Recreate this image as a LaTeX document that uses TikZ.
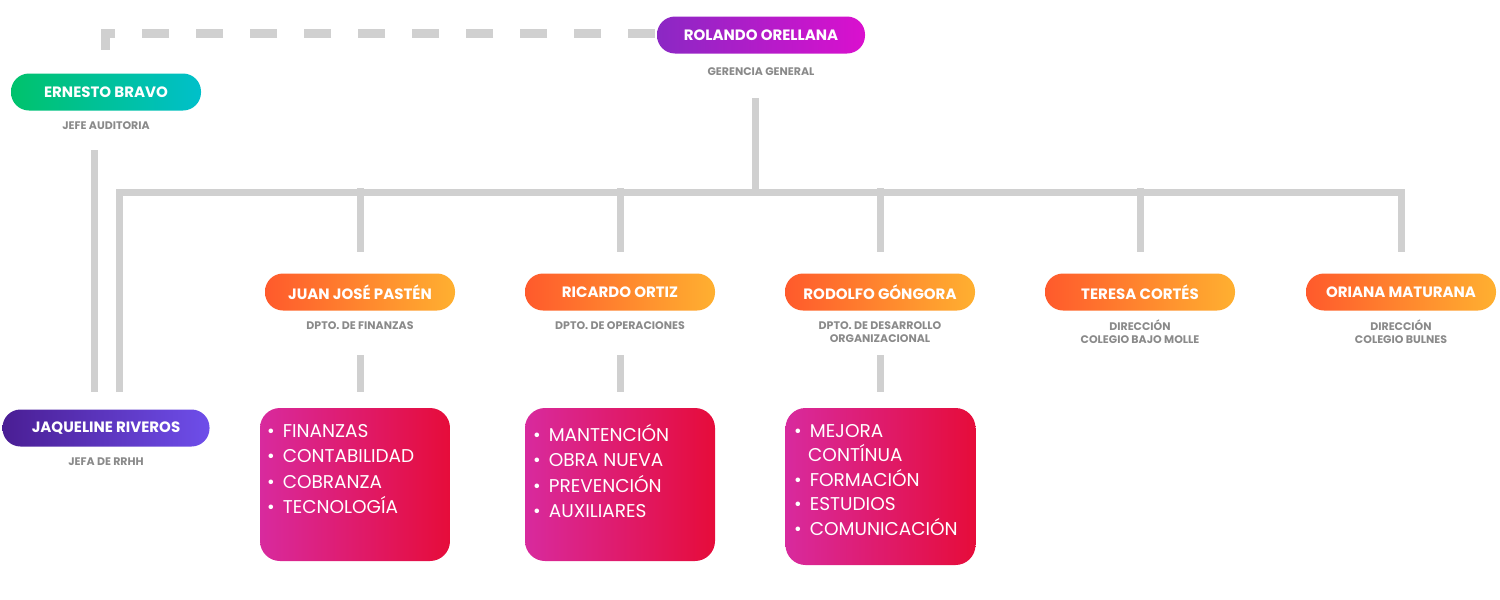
\documentclass[tikz,border=0pt]{standalone}
\usepackage{fontspec}
\setmainfont{Poppins}
\begin{document}
\begin{tikzpicture}[x=1pt,y=-1pt,
  pill/.style={rounded corners=18pt,minimum height=37pt,inner sep=0pt,text=white,font=\bfseries\fontsize{15}{18}\selectfont},
  org/.style={pill,minimum width=190pt,left color=orgA,right color=orgB},
  sub/.style={text=subg,font=\bfseries\fontsize{11}{12}\selectfont,align=center,inner sep=0pt},
  lst/.style={rounded corners=20pt,left color=boxA,right color=boxB,minimum width=190pt,inner sep=0pt},
  itm/.style={text=white,font=\fontsize{18.5}{25.5}\selectfont,align=left,anchor=north west,inner sep=0pt},
  con/.style={draw=lineg,line width=7pt}]
\definecolor{lineg}{HTML}{D0D0D0}
\definecolor{subg}{HTML}{8A8A8A}
\definecolor{orgA}{HTML}{FF5A2C}
\definecolor{orgB}{HTML}{FFB030}
\definecolor{boxA}{HTML}{D82A9E}
\definecolor{boxB}{HTML}{E60C3A}
\definecolor{purA}{HTML}{8B28C4}
\definecolor{purB}{HTML}{DA10CE}
\definecolor{grA}{HTML}{00C26C}
\definecolor{grB}{HTML}{00C0CA}
\definecolor{jaA}{HTML}{4A1E94}
\definecolor{jaB}{HTML}{6E4EEA}
\useasboundingbox (0,0) rectangle (1500,600);
% top
\node[pill,minimum width=208pt,left color=purA,right color=purB] (ro) at (761,35) {ROLANDO ORELLANA};
\node[sub] (ros) at (761,72) {GERENCIA GENERAL};
\node[pill,minimum width=190pt,left color=grA,right color=grB] (eb) at (106,92) {ERNESTO BRAVO};
\node[sub] (ebs) at (106,126) {JEFE AUDITORIA};
\node[pill,minimum width=207pt,left color=jaA,right color=jaB] (jr) at (106,428) {JAQUELINE RIVEROS};
\node[sub] (jrs) at (106,462) {JEFA DE RRHH};
% dashed link
\coordinate (d1) at (105,56);
\coordinate (d2) at (655,33);
\draw[draw=lineg,line width=9pt,dash pattern=on 27pt off 27pt] (d2) -- (d1 |- d2) -- (d1);
% tree
\coordinate (t0) at (755,98);
\coordinate (bar) at (755,192);
\draw[con] (t0) -- (bar);
\draw[con] (119,392) -- (119,192) -- (1401,192) -- (1401,252);
\foreach \x in {360,620,880,1140}{\draw[con] (\x,188) -- (\x,252);}
\draw[con] (94,150) -- (94,392);
% departments
\node[org] (p1) at (360,292) {JUAN JOSÉ PASTÉN};
\node[org] (p2) at (620,292) {RICARDO ORTIZ};
\node[org] (p3) at (880,292) {RODOLFO GÓNGORA};
\node[org] (p4) at (1140,292) {TERESA CORTÉS};
\node[org] (p5) at (1401,292) {ORIANA MATURANA};
\node[sub] at (360,326) {DPTO. DE FINANZAS};
\node[sub] at (620,326) {DPTO. DE OPERACIONES};
\node[sub,font=\bfseries\fontsize{11}{13}\selectfont] at (880,332) {DPTO. DE DESARROLLO\\ORGANIZACIONAL};
\node[sub,font=\bfseries\fontsize{11}{13}\selectfont] at (1140,332) {DIRECCIÓN\\COLEGIO BAJO MOLLE};
\node[sub,font=\bfseries\fontsize{11}{13}\selectfont] at (1401,332) {DIRECCIÓN\\COLEGIO BULNES};
\foreach \x in {360,620,880}{\draw[con] (\x,355) -- (\x,392);}
% boxes
\node[lst,minimum height=153pt] (b1) at (355,484.5) {};
\node[lst,minimum height=153pt] (b2) at (620,484.5) {};
\node[lst,minimum height=157pt] (b3) at (880.5,486.5) {};
\node[itm] at (267,424) {•\hspace{8pt}FINANZAS\\•\hspace{8pt}CONTABILIDAD\\•\hspace{8pt}COBRANZA\\•\hspace{8pt}TECNOLOGÍA};
\node[itm] at (533,424) {•\hspace{8pt}MANTENCIÓN\\•\hspace{8pt}OBRA NUEVA\\•\hspace{8pt}PREVENCIÓN\\•\hspace{8pt}AUXILIARES};
\node[itm,font=\fontsize{18.5}{24.5}\selectfont] at (794,424) {•\hspace{8pt}MEJORA\\\hspace{14pt}CONTÍNUA\\•\hspace{8pt}FORMACIÓN\\•\hspace{8pt}ESTUDIOS\\•\hspace{8pt}COMUNICACIÓN};
\end{tikzpicture}
\end{document}
